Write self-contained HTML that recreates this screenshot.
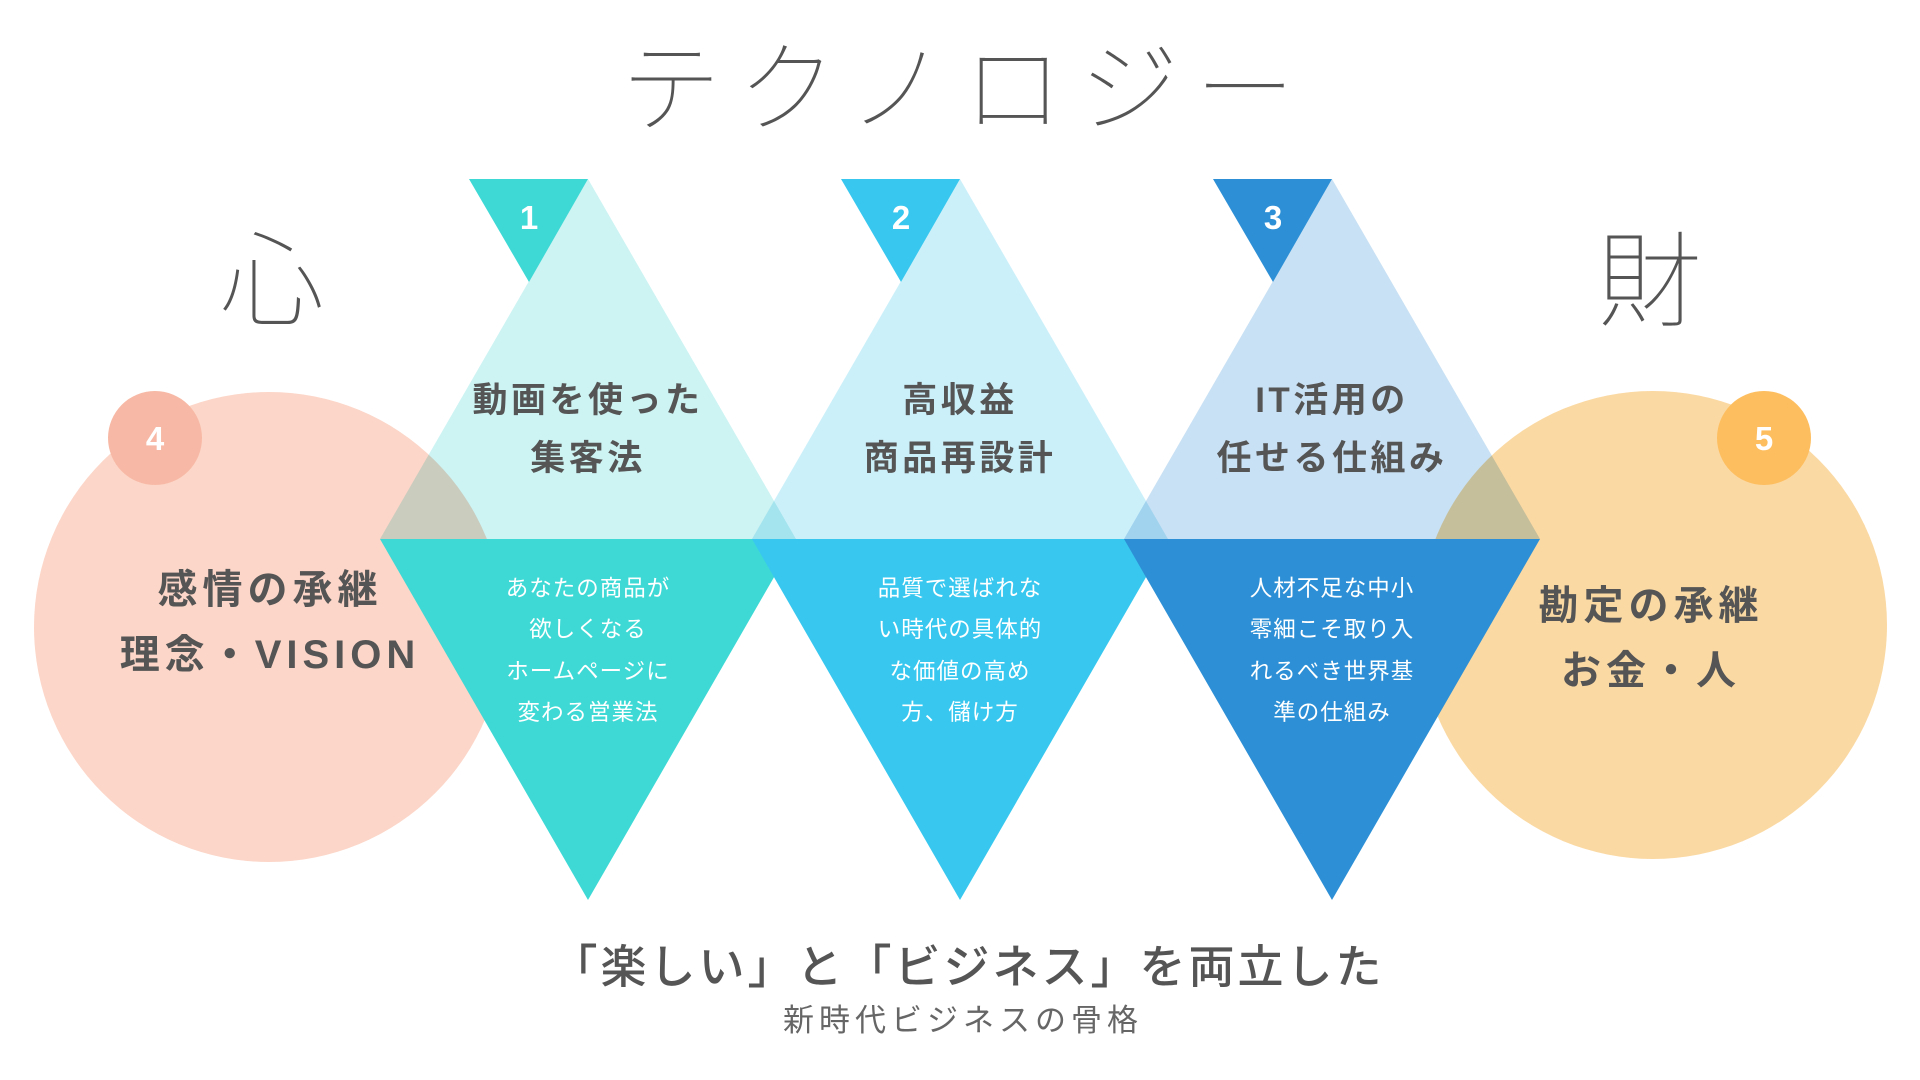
<!DOCTYPE html>
<html><head><meta charset="utf-8"><style>
html,body{margin:0;padding:0;background:#fff;}
svg{display:block;}
text{font-family:"Liberation Sans","Noto Sans CJK JP",sans-serif;}
.h{font-weight:700;fill:#555;font-size:35px;letter-spacing:3.5px;}
.w{fill:#fff;font-size:22.5px;letter-spacing:1px;}
.c{font-weight:700;fill:#555;font-size:40px;letter-spacing:5px;}
.n{font-weight:700;fill:#fff;font-size:33px;}
.thin{font-weight:100;fill:#555;}
</style></head><body>
<svg width="1920" height="1080" viewBox="0 0 1920 1080" xmlns="http://www.w3.org/2000/svg">
<rect width="1920" height="1080" fill="#fff"/>
<text class="thin" x="966" y="124" text-anchor="middle" font-size="100" letter-spacing="16">テクノロジー</text>
<text class="thin" x="272" y="318" text-anchor="middle" font-size="104">心</text>
<text class="thin" x="1650" y="318" text-anchor="middle" font-size="104">財</text>

<circle cx="269" cy="627" r="235" fill="#fcd6c8"/>
<circle cx="1653" cy="625" r="234" fill="#fbd9a3"/>

<g style="mix-blend-mode:multiply">
<polygon points="588,179 796,539 380,539" fill="#cdf3f3"/>
</g>
<g style="mix-blend-mode:multiply">
<polygon points="960,179 1168,539 752,539" fill="#ccf0fa"/>
</g>
<g style="mix-blend-mode:multiply">
<polygon points="1332,179 1540,539 1124,539" fill="#c9e1f4"/>
</g>

<polygon points="380,539 796,539 588,900" fill="#3ed9d5"/>
<polygon points="752,539 1168,539 960,900" fill="#38c8ef"/>
<polygon points="1124,539 1540,539 1332,900" fill="#2d90d6"/>

<polygon points="469,179 588,179 529,282" fill="#3ed9d5"/>
<polygon points="841,179 960,179 901,282" fill="#38c8ef"/>
<polygon points="1213,179 1332,179 1273,282" fill="#2d90d6"/>
<text class="n" x="529" y="229" text-anchor="middle">1</text>
<text class="n" x="901" y="229" text-anchor="middle">2</text>
<text class="n" x="1273" y="229" text-anchor="middle">3</text>

<circle cx="155" cy="438" r="47" fill="#f7b9a5"/>
<circle cx="1764" cy="438" r="47" fill="#fdbe5f"/>
<text class="n" x="155" y="450" text-anchor="middle">4</text>
<text class="n" x="1764" y="450" text-anchor="middle">5</text>

<text class="h" x="588" y="412" text-anchor="middle">動画を使った</text>
<text class="h" x="588" y="470" text-anchor="middle">集客法</text>
<text class="h" x="960" y="412" text-anchor="middle">高収益</text>
<text class="h" x="960" y="470" text-anchor="middle">商品再設計</text>
<text class="h" x="1332" y="412" text-anchor="middle">IT活用の</text>
<text class="h" x="1332" y="470" text-anchor="middle">任せる仕組み</text>

<text class="w" x="588" y="596" text-anchor="middle">あなたの商品が</text>
<text class="w" x="588" y="637" text-anchor="middle">欲しくなる</text>
<text class="w" x="588" y="679" text-anchor="middle">ホームページに</text>
<text class="w" x="588" y="720" text-anchor="middle">変わる営業法</text>
<text class="w" x="960" y="596" text-anchor="middle">品質で選ばれな</text>
<text class="w" x="960" y="637" text-anchor="middle">い時代の具体的</text>
<text class="w" x="960" y="679" text-anchor="middle">な価値の高め</text>
<text class="w" x="960" y="720" text-anchor="middle">方、儲け方</text>
<text class="w" x="1332" y="596" text-anchor="middle">人材不足な中小</text>
<text class="w" x="1332" y="637" text-anchor="middle">零細こそ取り入</text>
<text class="w" x="1332" y="679" text-anchor="middle">れるべき世界基</text>
<text class="w" x="1332" y="720" text-anchor="middle">準の仕組み</text>

<text class="c" x="270" y="603" text-anchor="middle">感情の承継</text>
<text class="c" x="270" y="668" text-anchor="middle">理念・VISION</text>
<text class="c" x="1651" y="619" text-anchor="middle">勘定の承継</text>
<text class="c" x="1651" y="684" text-anchor="middle">お金・人</text>

<text x="968" y="983" text-anchor="middle" font-size="46" font-weight="500" fill="#555" letter-spacing="3">「楽しい」と「ビジネス」を両立した</text>
<text x="963" y="1031" text-anchor="middle" font-size="31" fill="#666" letter-spacing="5">新時代ビジネスの骨格</text>
</svg>
</body></html>
